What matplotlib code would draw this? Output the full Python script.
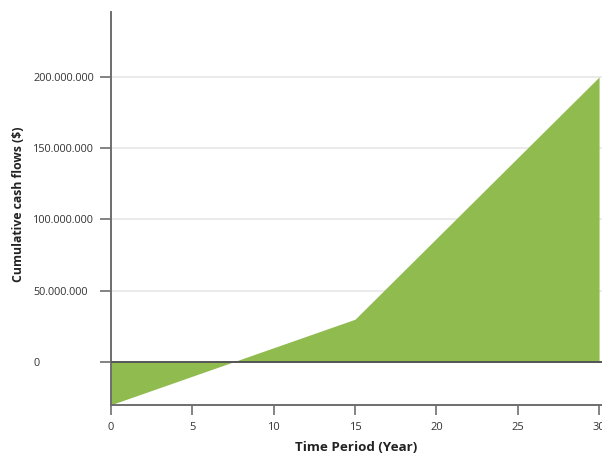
import matplotlib.pyplot as plt
from matplotlib.ticker import FuncFormatter

# cumulative cash flow
years = [0, 15, 30]
cumulative = [-30e6, 30e6, 200e6]

x_ticks = [0, 5, 10, 15, 20, 25, 30]
y_ticks = [0, 50e6, 100e6, 150e6, 200e6]

plt.rcParams['font.family'] = ['Open Sans', 'DejaVu Sans']

fig = plt.figure(figsize=(6.02, 4.57), dpi=100)
ax = fig.add_axes([111 / 602, 1 - 405 / 457, 1 - 111 / 602, (405 - 12) / 457])

ax.fill_between(years, cumulative, 0, color='#8fbb4f', linewidth=0, zorder=2)

ax.set_xlim(0, 30.18)
ax.set_ylim(-30.2e6, 245.6e6)

for v in y_ticks:
    if v == 0:
        ax.axhline(v, color='#555555', lw=1.4, zorder=3)
    else:
        ax.axhline(v, color='#e6e6e6', lw=1.2, zorder=1)

ax.set_xticks(x_ticks)
ax.set_yticks(y_ticks)
ax.yaxis.set_major_formatter(FuncFormatter(lambda v, p: f"{int(v):,}".replace(',', '.')))

for s in ['top', 'right']:
    ax.spines[s].set_visible(False)
for s in ['left', 'bottom']:
    ax.spines[s].set_color('#6e6e6e')
    ax.spines[s].set_linewidth(1.4)

ax.tick_params(axis='y', length=8, width=1.2, color='#6e6e6e', labelsize=7.8,
               labelcolor='#333333', pad=48)
for lbl in ax.get_yticklabels():
    lbl.set_horizontalalignment('left')
ax.tick_params(axis='x', length=7, width=1.2, color='#6e6e6e', labelsize=8,
               labelcolor='#333333', pad=5)

ax.set_xlabel('Time Period (Year)', fontsize=9.6, fontweight='bold', color='#222222', labelpad=6)
ax.set_ylabel('Cumulative cash flows ($)', fontsize=8.8, fontweight='bold', color='#222222')
ax.yaxis.set_label_coords(-0.175, 0.51)

fig.savefig('out.png', dpi=100)
